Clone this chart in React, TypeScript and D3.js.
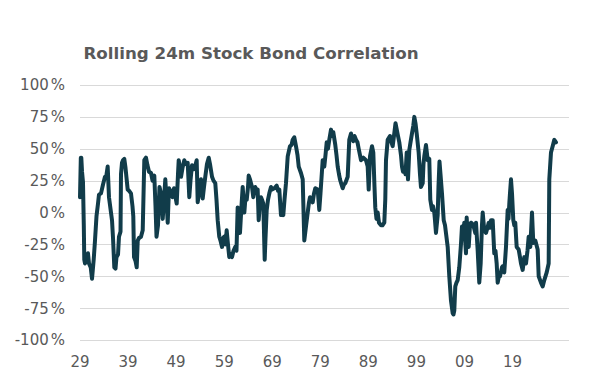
import React from "react";
import * as d3 from "d3";

const TITLE = "Rolling 24m Stock Bond Correlation";

// x positions in decimal years, correlation values
const years: number[] = [
  1929.00, 1929.17, 1929.27, 1929.42, 1929.62, 1929.79, 1929.89, 1930.04, 1930.25, 1930.46,
  1930.66, 1930.87, 1931.23, 1931.50, 1931.85, 1932.12, 1932.43, 1932.75, 1932.95, 1933.37,
  1933.79, 1934.20, 1934.41, 1934.76, 1935.03, 1935.66, 1935.87, 1936.14, 1936.39, 1936.59,
  1936.91, 1937.11, 1937.43, 1937.53, 1937.74, 1937.95, 1938.22, 1938.47, 1938.92, 1939.20,
  1939.61, 1939.92, 1940.09, 1940.24, 1940.55, 1940.80, 1941.01, 1941.28, 1941.69, 1942.05,
  1942.38, 1942.73, 1943.04, 1943.36, 1943.77, 1944.09, 1944.46, 1944.71, 1944.92, 1945.23,
  1945.54, 1945.85, 1946.21, 1946.48, 1946.75, 1947.00, 1947.25, 1947.52, 1947.93, 1948.25,
  1948.56, 1948.87, 1949.12, 1949.39, 1949.54, 1949.81, 1950.02, 1950.33, 1950.70, 1951.06,
  1951.41, 1951.74, 1951.99, 1952.30, 1952.78, 1953.28, 1953.49, 1953.76, 1954.18, 1954.53,
  1954.80, 1955.07, 1955.42, 1955.78, 1956.05, 1956.47, 1956.78, 1957.15, 1957.40, 1957.65,
  1957.98, 1958.23, 1958.55, 1958.75, 1959.02, 1959.27, 1959.52, 1959.79, 1960.06, 1960.42,
  1960.63, 1960.94, 1961.31, 1961.56, 1961.81, 1962.15, 1962.29, 1962.60, 1962.85, 1963.19,
  1963.44, 1963.69, 1963.96, 1964.10, 1964.37, 1964.58, 1964.79, 1965.06, 1965.47, 1965.72,
  1965.97, 1966.18, 1966.45, 1966.66, 1966.87, 1967.14, 1967.43, 1967.60, 1967.85, 1968.12,
  1968.39, 1968.74, 1968.95, 1969.43, 1969.93, 1970.20, 1970.47, 1970.82, 1971.03, 1971.30,
  1971.55, 1971.86, 1972.22, 1972.69, 1973.01, 1973.26, 1973.59, 1973.94, 1974.26, 1974.51,
  1974.98, 1975.34, 1975.67, 1976.02, 1976.38, 1976.65, 1976.86, 1977.17, 1977.42, 1977.69,
  1977.96, 1978.46, 1978.79, 1979.04, 1979.50, 1979.83, 1980.08, 1980.33, 1980.60, 1980.87,
  1981.23, 1981.43, 1981.70, 1982.12, 1982.37, 1982.62, 1982.89, 1983.10, 1983.41, 1983.66,
  1983.93, 1984.20, 1984.70, 1985.03, 1985.39, 1985.60, 1985.87, 1986.12, 1986.43, 1986.74,
  1986.99, 1987.26, 1987.47, 1987.95, 1988.51, 1988.86, 1989.07, 1989.34, 1989.76, 1990.03,
  1990.28, 1990.44, 1990.69, 1990.94, 1991.21, 1991.63, 1991.94, 1992.32, 1992.52, 1992.67,
  1993.02, 1993.50, 1993.81, 1994.06, 1994.33, 1994.65, 1995.06, 1995.44, 1995.79, 1996.00,
  1996.21, 1996.48, 1996.73, 1996.98, 1997.25, 1997.52, 1997.77, 1998.08, 1998.35, 1998.56,
  1998.81, 1999.06, 1999.47, 1999.74, 1999.95, 2000.31, 2000.47, 2000.64, 2000.99, 2001.35,
  2001.68, 2001.89, 2002.24, 2002.45, 2002.72, 2002.86, 2003.07, 2003.43, 2003.59, 2003.80,
  2004.01, 2004.32, 2004.68, 2004.95, 2005.15, 2005.51, 2005.84, 2006.19, 2006.55, 2006.71,
  2006.88, 2007.09, 2007.34, 2007.59, 2007.92, 2008.27, 2008.48, 2008.69, 2008.96, 2009.11,
  2009.32, 2009.46, 2009.63, 2009.88, 2010.15, 2010.36, 2010.71, 2010.98, 2011.25, 2011.40,
  2011.75, 2012.08, 2012.37, 2012.64, 2012.79, 2013.12, 2013.48, 2013.79, 2014.04, 2014.31,
  2014.52, 2014.87, 2015.20, 2015.45, 2015.70, 2015.91, 2016.18, 2016.39, 2016.81, 2017.01,
  2017.28, 2017.64, 2017.99, 2018.16, 2018.33, 2018.47, 2018.68, 2018.89, 2019.16, 2019.37,
  2019.57, 2019.86, 2020.28, 2020.55, 2020.76, 2021.11, 2021.45, 2021.80, 2022.11, 2022.36,
  2022.70, 2023.05, 2023.32, 2023.74, 2024.23, 2024.44, 2024.92, 2025.27, 2025.61, 2026.11,
  2026.52, 2026.65, 2027.00, 2027.35, 2027.69, 2028.04,
];

const correlation: number[] = [
  0.12, 0.43, 0.43, 0.32, 0.24, -0.10, -0.37, -0.40, -0.35, -0.38,
  -0.32, -0.40, -0.43, -0.52, -0.37, -0.22, -0.03, 0.07, 0.14, 0.15,
  0.22, 0.28, 0.27, 0.36, 0.12, -0.06, -0.20, -0.43, -0.44, -0.35,
  -0.33, -0.19, -0.15, 0.30, 0.39, 0.41, 0.42, 0.35, 0.18, 0.17,
  0.15, 0.05, -0.03, -0.35, -0.38, -0.43, -0.22, -0.20, -0.19, -0.14,
  0.41, 0.43, 0.37, 0.32, 0.31, 0.25, 0.29, 0.05, -0.19, -0.10,
  0.20, 0.15, -0.05, 0.10, 0.26, 0.10, -0.08, 0.19, 0.16, 0.12,
  0.19, 0.12, 0.07, 0.30, 0.41, 0.35, 0.28, 0.35, 0.41, 0.38,
  0.39, 0.12, 0.25, 0.37, 0.34, 0.41, 0.08, 0.15, 0.26, 0.11,
  0.20, 0.28, 0.38, 0.43, 0.38, 0.28, 0.25, 0.23, 0.10, -0.06,
  -0.19, -0.22, -0.27, -0.20, -0.19, -0.25, -0.14, -0.25, -0.35, -0.33,
  -0.35, -0.30, -0.27, -0.30, 0.04, -0.14, -0.16, 0.05, 0.20, 0.00,
  0.12, 0.10, 0.20, 0.29, 0.26, 0.23, 0.20, 0.12, 0.20, 0.17,
  0.18, -0.06, 0.08, 0.12, 0.10, 0.07, -0.37, -0.20, 0.02, 0.10,
  0.15, 0.20, 0.18, 0.19, 0.21, 0.17, 0.18, -0.02, 0.00, -0.02,
  0.10, 0.23, 0.44, 0.52, 0.53, 0.57, 0.59, 0.52, 0.45, 0.36,
  0.31, 0.26, -0.22, -0.11, 0.00, 0.08, 0.12, 0.10, 0.08, 0.15,
  0.19, 0.18, 0.02, 0.15, 0.41, 0.36, 0.45, 0.55, 0.50, 0.57,
  0.65, 0.60, 0.63, 0.53, 0.45, 0.36, 0.30, 0.26, 0.22, 0.19,
  0.22, 0.23, 0.28, 0.57, 0.62, 0.58, 0.56, 0.60, 0.57, 0.55,
  0.50, 0.45, 0.41, 0.43, 0.41, 0.36, 0.18, 0.44, 0.52, 0.47,
  0.20, 0.04, -0.05, 0.00, -0.08, -0.10, -0.10, -0.08, 0.10, 0.41,
  0.57, 0.60, 0.55, 0.52, 0.60, 0.70, 0.62, 0.55, 0.45, 0.36,
  0.32, 0.34, 0.30, 0.47, 0.26, 0.49, 0.55, 0.62, 0.68, 0.75,
  0.70, 0.62, 0.47, 0.30, 0.20, 0.23, 0.38, 0.44, 0.53, 0.41,
  0.42, 0.10, 0.02, 0.05, 0.00, -0.06, -0.16, -0.02, 0.20, 0.40,
  0.30, 0.15, -0.06, -0.10, -0.16, -0.27, -0.50, -0.69, -0.79, -0.80,
  -0.77, -0.58, -0.55, -0.53, -0.43, -0.25, -0.11, -0.20, -0.08, -0.20,
  -0.32, -0.04, -0.15, -0.27, -0.10, -0.08, -0.09, -0.12, -0.16, -0.08,
  -0.30, -0.55, -0.40, -0.10, 0.00, -0.14, -0.16, -0.12, -0.08, -0.12,
  -0.06, -0.06, -0.32, -0.30, -0.40, -0.55, -0.50, -0.50, -0.43, -0.42,
  -0.47, -0.27, 0.02, -0.05, 0.07, 0.15, 0.26, 0.15, -0.06, -0.10,
  -0.08, -0.27, -0.29, -0.35, -0.40, -0.45, -0.35, -0.40, -0.30, -0.19,
  -0.27, 0.00, -0.24, -0.22, -0.29, -0.50, -0.55, -0.58, -0.53, -0.47,
  -0.40, 0.26, 0.47, 0.52, 0.57, 0.55,
];

const yTicks: number[] = [1, 0.75, 0.5, 0.25, 0, -0.25, -0.5, -0.75, -1];
const xTickYears: number[] = [1929, 1939, 1949, 1959, 1969, 1979, 1989, 1999, 2009, 2019];

const W = 608;
const H = 382;
const left = 80;
const right = 569;
const top = 85;
const bottom = 340;

const LINE_COLOR = "#113c4a";
const TEXT_COLOR = "#595959";
const GRID_COLOR = "#d9d9d9";
const FONT = "Verdana, 'DejaVu Sans', sans-serif";

export default function App() {
  const x = d3.scaleLinear().domain([1929, 2030.75]).range([left, right]);
  const y = d3.scaleLinear().domain([-1, 1]).range([bottom, top]);

  const pts = years.map((t, i) => [t, correlation[i]] as [number, number]);
  const line = d3
    .line<[number, number]>()
    .x((d) => x(d[0]))
    .y((d) => y(d[1]))
    .curve(d3.curveLinear);

  const fmtNum = (v: number) => `${Math.round(v * 100)}`;
  const fmtYear = (t: number) => String(t % 100).padStart(2, "0");

  return (
    <svg
      width={W}
      height={H}
      style={{ position: "absolute", left: 0, top: 0, background: "#fff" }}
      fontFamily={FONT}
    >
      <rect x={0} y={0} width={W} height={H} fill="#fff" />
      <text
        x={251}
        y={59}
        textAnchor="middle"
        fontSize={16.7}
        fontWeight="bold"
        fill={TEXT_COLOR}
      >
        {TITLE}
      </text>
      <g>
        {yTicks.map((v) => (
          <g key={v}>
            <line
              x1={left}
              x2={right}
              y1={Math.round(y(v)) + 0.5}
              y2={Math.round(y(v)) + 0.5}
              stroke={GRID_COLOR}
              strokeWidth={1}
            />
            <text
              x={65}
              y={y(v)}
              dy="0.36em"
              textAnchor="end"
              fontSize={15}
              fill={TEXT_COLOR}
            >
              {fmtNum(v)}
              <tspan dx={2}>%</tspan>
            </text>
          </g>
        ))}
      </g>
      <g>
        {xTickYears.map((t) => (
          <text
            key={t}
            x={x(t)}
            y={367}
            textAnchor="middle"
            fontSize={15}
            fill={TEXT_COLOR}
          >
            {fmtYear(t)}
          </text>
        ))}
      </g>
      <path
        d={line(pts) || ""}
        fill="none"
        stroke={LINE_COLOR}
        strokeWidth={4}
        strokeLinejoin="round"
        strokeLinecap="round"
      />
    </svg>
  );
}
